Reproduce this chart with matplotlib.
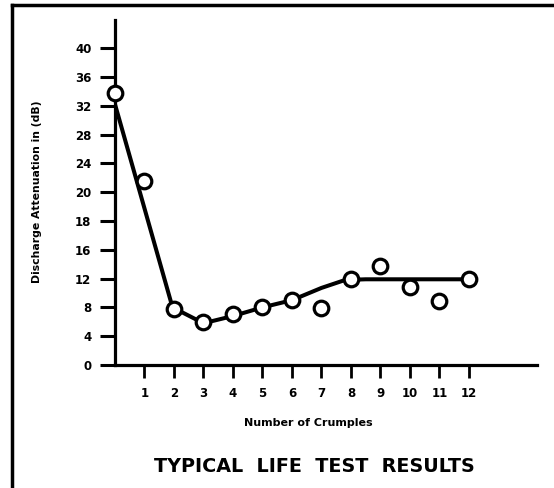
import matplotlib
matplotlib.use("Agg")
import matplotlib.pyplot as plt
from matplotlib.lines import Line2D

# crumple test data (y in axis position units; the printed scale repeats a 16/18 step)
crumples = [0, 1, 2, 3, 4, 5, 6, 7, 8, 9, 10, 11, 12]
attenuation = [37.8, 25.6, 7.8, 6.0, 7.1, 8.1, 9.0, 7.9, 11.9, 13.75, 10.8, 8.9, 11.9]

# hand drawn fit curve
fit_x = [0.0, 1.95, 3.0, 4.0, 5.0, 6.0, 7.0, 7.8, 8.5, 12.0]
fit_y = [36.2, 8.0, 5.8, 6.8, 8.0, 9.0, 10.7, 11.8, 11.9, 11.9]

y_ticks = [0, 4, 8, 12, 16, 20, 24, 28, 32, 36, 40, 44]
y_labels = ["0", "4", "8", "12", "16", "18", "20", "24", "28", "32", "36", "40"]
x_ticks = [1, 2, 3, 4, 5, 6, 7, 8, 9, 10, 11, 12]

fig = plt.figure(figsize=(5.54, 4.88), dpi=100)
ax = fig.add_axes([115 / 554, (488 - 365) / 488, (537 - 115) / 554, (365 - 20) / 488])

ax.plot(fit_x, fit_y, color="black", lw=2.9, solid_capstyle="round", zorder=2)
ax.plot(crumples, attenuation, "o", ms=10.5, mfc="white", mec="black", mew=2.3, zorder=3,
        clip_on=False)

ax.set_xlim(0, 14.31)
ax.set_ylim(0, 47.9)

ax.spines["top"].set_visible(False)
ax.spines["right"].set_visible(False)
ax.spines["left"].set_linewidth(2.3)
ax.spines["bottom"].set_linewidth(2.3)

ax.set_yticks(y_ticks)
ax.set_yticklabels(y_labels, fontsize=8.5, fontweight="bold")
ax.set_xticks(x_ticks)
ax.set_xticklabels([str(v) for v in x_ticks], fontsize=8.5, fontweight="bold")
ax.tick_params(axis="y", direction="out", length=11, width=2.2, pad=6)
ax.tick_params(axis="x", direction="out", length=9, width=2.0, pad=7)

fig.text(308 / 554, 1 - 423 / 488, "Number of Crumples", ha="center", va="center",
         fontsize=8, fontweight="bold")
fig.text(37 / 554, 1 - 192 / 488, "Discharge Attenuation in (dB)", ha="center", va="center",
         rotation=90, fontsize=7.8, fontweight="bold")
fig.text(314 / 554, 1 - 467 / 488, "TYPICAL  LIFE  TEST  RESULTS", ha="center", va="center",
         fontsize=13.8, fontweight="bold")

# outer frame of the scanned page
fig.add_artist(Line2D([12 / 554, 12 / 554], [0, 1 - 5 / 488], color="black", lw=2.5,
                      transform=fig.transFigure))
fig.add_artist(Line2D([12 / 554, 553 / 554], [1 - 5 / 488, 1 - 5 / 488], color="black", lw=2.5,
                      transform=fig.transFigure))

fig.savefig("out.png", dpi=100)
